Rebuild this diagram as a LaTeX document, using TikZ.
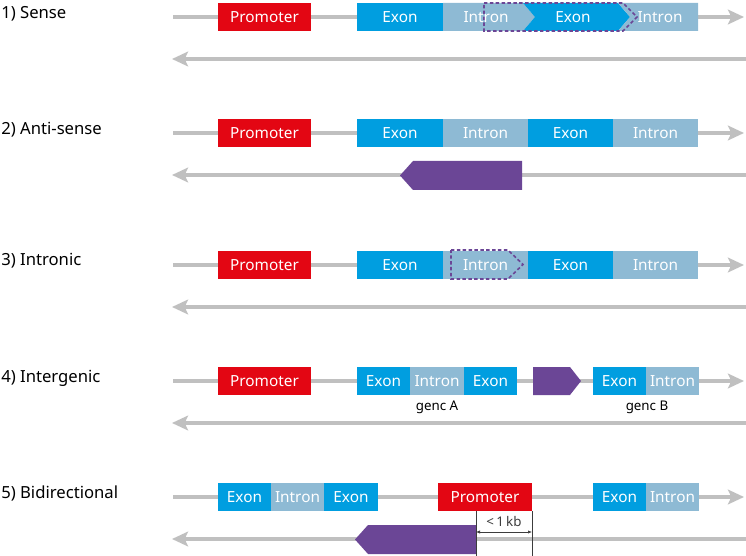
\documentclass[tikz,border=0pt]{standalone}
\usepackage{fontspec}
\setmainfont{Noto Sans}
\usepackage{tikz}
\usetikzlibrary{arrows.meta}

\definecolor{promred}{RGB}{227,6,19}
\definecolor{exonblue}{RGB}{0,158,224}
\definecolor{intronblue}{RGB}{142,186,212}
\definecolor{rnapurple}{RGB}{107,70,150}
\definecolor{strandgray}{RGB}{192,192,192}
\definecolor{dimgray}{RGB}{60,60,60}

\tikzset{
  strand/.style={draw=strandgray, line width=3pt},
  fwd/.style={strand, -{Stealth[length=12pt, width=11pt, inset=2.5pt]}},
  rev/.style={strand, {Stealth[length=12pt, width=11pt, inset=2.5pt]}-},
  promfill/.style={fill=promred},
  exonfill/.style={fill=exonblue},
  intronfill/.style={fill=intronblue},
  rnafill/.style={fill=rnapurple},
  rnadash/.style={draw=rnapurple, line width=1.2pt, dash pattern=on 2.6pt off 1.8pt},
  boxtext/.style={text=white, font=\fontsize{11.5}{13}\selectfont, inner sep=0.75pt},
  rowlabel/.style={anchor=west, font=\fontsize{12.5}{15}\selectfont, inner sep=0.75pt},
  genetext/.style={font=\fontsize{10}{12}\selectfont, inner sep=0.75pt},
}

\begin{document}
\begin{tikzpicture}[x=0.75pt,y=0.75pt,yscale=-1,xscale=1]
\useasboundingbox (0,0) rectangle (746,556);

%%%%% 1) Sense
\coordinate (a1) at (173,17); \coordinate (b1) at (744,17);
\coordinate (c1) at (746,59); \coordinate (d1) at (172,59);
\draw [fwd] (a1) -- (b1);
\draw [rev] (d1) -- (c1);
\fill [promfill] (218,3) rectangle (311,31);
\fill [exonfill] (357,3) rectangle (443,31);
\fill [intronfill] (443,3) -- (523,3) -- (535,17) -- (523,31) -- (443,31) -- cycle;
\fill [exonfill] (523,3) -- (618,3) -- (630,17) -- (618,31) -- (523,31) -- (535,17) -- cycle;
\fill [intronfill] (618,3) -- (698,3) -- (698,31) -- (618,31) -- (630,17) -- cycle;
\draw [rnadash] (484,3) -- (623,3) -- (637,17) -- (623,31) -- (484,31) -- cycle;
% Text Node
\node [rowlabel] (lab1) at (0,14) {1) Sense};
\node [boxtext] (p1) at (264.5,17) {Promoter};
\node [boxtext] (e1a) at (400,17) {Exon};
\node [boxtext] (i1a) at (486,17) {Intron};
\node [boxtext] (e1b) at (573,17) {Exon};
\node [boxtext] (i1b) at (660,17) {Intron};

%%%%% 2) Anti-sense
\coordinate (a2) at (173,133); \coordinate (b2) at (744,133);
\coordinate (c2) at (746,175); \coordinate (d2) at (172,175);
\draw [fwd] (a2) -- (b2);
\draw [rev] (d2) -- (c2);
\fill [promfill] (218,119) rectangle (311,147);
\fill [exonfill] (357,119) rectangle (443,147);
\fill [intronfill] (443,119) rectangle (528,147);
\fill [exonfill] (528,119) rectangle (613,147);
\fill [intronfill] (613,119) rectangle (698,147);
\fill [rnafill] (400,175.5) -- (413,161) -- (522,161) -- (522,190) -- (413,190) -- cycle;
% Text Node
\node [rowlabel] (lab2) at (0,130) {2) Anti-sense};
\node [boxtext] (p2) at (264.5,133) {Promoter};
\node [boxtext] (e2a) at (400,133) {Exon};
\node [boxtext] (i2a) at (485.5,133) {Intron};
\node [boxtext] (e2b) at (570.5,133) {Exon};
\node [boxtext] (i2b) at (655.5,133) {Intron};

%%%%% 3) Intronic
\coordinate (a3) at (173,265); \coordinate (b3) at (744,265);
\coordinate (c3) at (746,307); \coordinate (d3) at (172,307);
\draw [fwd] (a3) -- (b3);
\draw [rev] (d3) -- (c3);
\fill [promfill] (218,251) rectangle (311,279);
\fill [exonfill] (357,251) rectangle (443,279);
\fill [intronfill] (443,251) rectangle (528,279);
\fill [exonfill] (528,251) rectangle (613,279);
\fill [intronfill] (613,251) rectangle (698,279);
\draw [rnadash] (451,250) -- (508,250) -- (523,264.5) -- (508,279) -- (451,279) -- cycle;
% Text Node
\node [rowlabel] (lab3) at (0,261) {3) Intronic};
\node [boxtext] (p3) at (264.5,265) {Promoter};
\node [boxtext] (e3a) at (400,265) {Exon};
\node [boxtext] (i3a) at (485.5,265) {Intron};
\node [boxtext] (e3b) at (570.5,265) {Exon};
\node [boxtext] (i3b) at (655.5,265) {Intron};

%%%%% 4) Intergenic
\coordinate (a4) at (173,381); \coordinate (b4) at (744,381);
\coordinate (c4) at (746,423); \coordinate (d4) at (172,423);
\draw [fwd] (a4) -- (b4);
\draw [rev] (d4) -- (c4);
\fill [promfill] (218,367) rectangle (311,395);
\fill [exonfill] (357,367) rectangle (410,395);
\fill [intronfill] (410,367) rectangle (464,395);
\fill [exonfill] (464,367) rectangle (517,395);
\fill [rnafill] (533,367) -- (570,367) -- (581,381) -- (570,395) -- (533,395) -- cycle;
\fill [exonfill] (593,367) rectangle (646,395);
\fill [intronfill] (646,367) rectangle (699,395);
% Text Node
\node [rowlabel] (lab4) at (0,378) {4) Intergenic};
\node [boxtext] (p4) at (264.5,381) {Promoter};
\node [boxtext] (e4a) at (383.5,381) {Exon};
\node [boxtext] (i4a) at (437,381) {Intron};
\node [boxtext] (e4b) at (490.5,381) {Exon};
\node [boxtext] (e4c) at (619.5,381) {Exon};
\node [boxtext] (i4c) at (672.5,381) {Intron};
\node [genetext] (gA) at (437,407) {genc A};
\node [genetext] (gB) at (647,407) {genc B};

%%%%% 5) Bidirectional
\coordinate (a5) at (173,497); \coordinate (b5) at (744,497);
\coordinate (c5) at (746,539); \coordinate (d5) at (172,539);
\draw [fwd] (a5) -- (b5);
\draw [rev] (d5) -- (c5);
\fill [exonfill] (218,483) rectangle (271,511);
\fill [intronfill] (271,483) rectangle (324,511);
\fill [exonfill] (324,483) rectangle (378,511);
\fill [promfill] (438,483) rectangle (532,511);
\fill [exonfill] (593,483) rectangle (646,511);
\fill [intronfill] (646,483) rectangle (699,511);
\fill [rnafill] (355,539.5) -- (368,525) -- (476,525) -- (476,554) -- (368,554) -- cycle;
%Dimension
\coordinate (k1) at (476,511); \coordinate (k2) at (476,556);
\coordinate (k3) at (532,511); \coordinate (k4) at (532,556);
\coordinate (m1) at (476,532); \coordinate (m2) at (532,532);
\draw [dimgray, line width=0.5pt] (k1) -- (k2);
\draw [dimgray, line width=0.5pt] (k3) -- (k4);
\draw [dimgray, line width=0.5pt, {Latex[length=3pt,width=2.5pt]}-{Latex[length=3pt,width=2.5pt]}] (m1) -- (m2);
% Text Node
\node [rowlabel] (lab5) at (0,493) {5) Bidirectional};
\node [boxtext] (e5a) at (244.5,497) {Exon};
\node [boxtext] (i5a) at (297.5,497) {Intron};
\node [boxtext] (e5b) at (351,497) {Exon};
\node [boxtext] (p5) at (485,497) {Promoter};
\node [boxtext] (e5c) at (619.5,497) {Exon};
\node [boxtext] (i5c) at (672.5,497) {Intron};
\node [genetext, text=dimgray] (kb) at (504,521) {<\,1\,kb};

\end{tikzpicture}
\end{document}
